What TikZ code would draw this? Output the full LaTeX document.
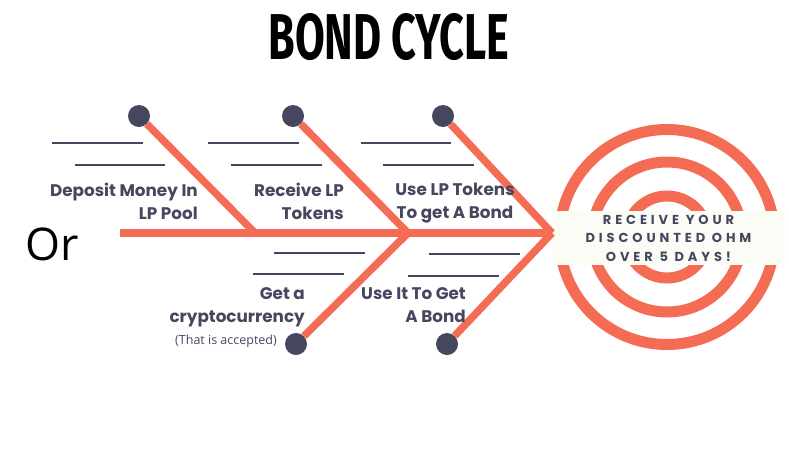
\documentclass[tikz,border=0pt]{standalone}
\usepackage{fontspec}
\setmainfont{Poppins}
\newfontfamily\orfont{Open Sans}
\newfontfamily\titlefont{Fira Sans}
\usetikzlibrary{positioning}
\definecolor{boneorange}{RGB}{244,108,83}
\definecolor{slatedark}{RGB}{69,71,94}
\definecolor{boxwhite}{RGB}{250,252,245}

\begin{document}
\begin{tikzpicture}[x=1pt, y=-1pt,
    bone/.style={line width=7.5pt, boneorange},
    ring/.style={line width=11pt, boneorange},
    knob/.style={circle, fill=slatedark, minimum size=22pt, inner sep=0pt},
    blank/.style={line width=2.2pt, slatedark},
    causetext/.style={font=\bfseries\fontsize{16.8}{23}\selectfont, text=slatedark, align=right, inner sep=0pt},
    goalbox/.style={rectangle, fill=boxwhite, minimum width=233pt, minimum height=53pt, text=slatedark, align=center,
        font=\bfseries\fontsize{13}{18.5}\selectfont\addfontfeatures{LetterSpace=30}}
]
\useasboundingbox (0,0) rectangle (789,453);

% Title
\node[inner sep=0pt] (title) at (389,37) {\resizebox{241pt}{46pt}{\titlefont\bfseries BOND CYCLE}};
\node[inner sep=0pt, font=\orfont\fontsize{45}{50}\selectfont] (or) at (52,244) {Or};

% Target
\coordinate (centre) at (667,237);
\draw[ring] (centre) circle (107.5);
\draw[ring] (centre) circle (75);
\draw[ring] (centre) circle (41);
\node[goalbox] (goal) at (668.5,238) {RECEIVE YOUR\\DISCOUNTED OHM\\OVER 5 DAYS!};

% Spine
\coordinate (tail) at (120,233);
\coordinate (j1) at (255,233);
\coordinate (j2) at (408,233);
\coordinate (j3) at (552,233);
\draw[bone] (tail) -- (j3);

% Knobs
\node[knob] (k1) at (139,116) {};
\node[knob] (k2) at (293,116) {};
\node[knob] (k3) at (443,116) {};
\node[knob] (k4) at (296,344) {};
\node[knob] (k5) at (447,344) {};

% Bones
\draw[bone] (k1) -- (j1);
\draw[bone] (k2) -- (j2);
\draw[bone] (k3) -- (j3);
\draw[bone] (j2) -- (k4);
\draw[bone] (j3) -- (k5);

% Blank lines
\draw[blank] (52,143) -- (143,143);
\draw[blank] (75,165) -- (165,165);
\draw[blank] (208,143) -- (299,143);
\draw[blank] (231,165) -- (322,165);
\draw[blank] (361,143) -- (451,143);
\draw[blank] (383,165) -- (474,165);
\draw[blank] (274,253) -- (365,253);
\draw[blank] (253,274) -- (344,274);
\draw[blank] (429,254) -- (520,254);
\draw[blank] (408,276) -- (499,276);

% Causes
\node[causetext, anchor=north east] (deposit) at (198,182.5) {Deposit Money In\\LP Pool};
\node[causetext, anchor=north east] (receive) at (344,182.5) {Receive LP\\Tokens};
\node[causetext, anchor=north, align=center] (uselp) at (455,182.5) {Use LP Tokens\\To get A Bond};
\node[causetext, anchor=north east] (getcrypto) at (305,287.5) {Get a\\cryptocurrency};
\node[inner sep=0pt, anchor=east, text=slatedark, font=\orfont\fontsize{12.5}{14}\selectfont] (accepted) at (277,341) {(That is accepted)};
\node[causetext, anchor=north east] (useit) at (466,287.5) {Use It To Get\\A Bond};

\end{tikzpicture}
\end{document}
